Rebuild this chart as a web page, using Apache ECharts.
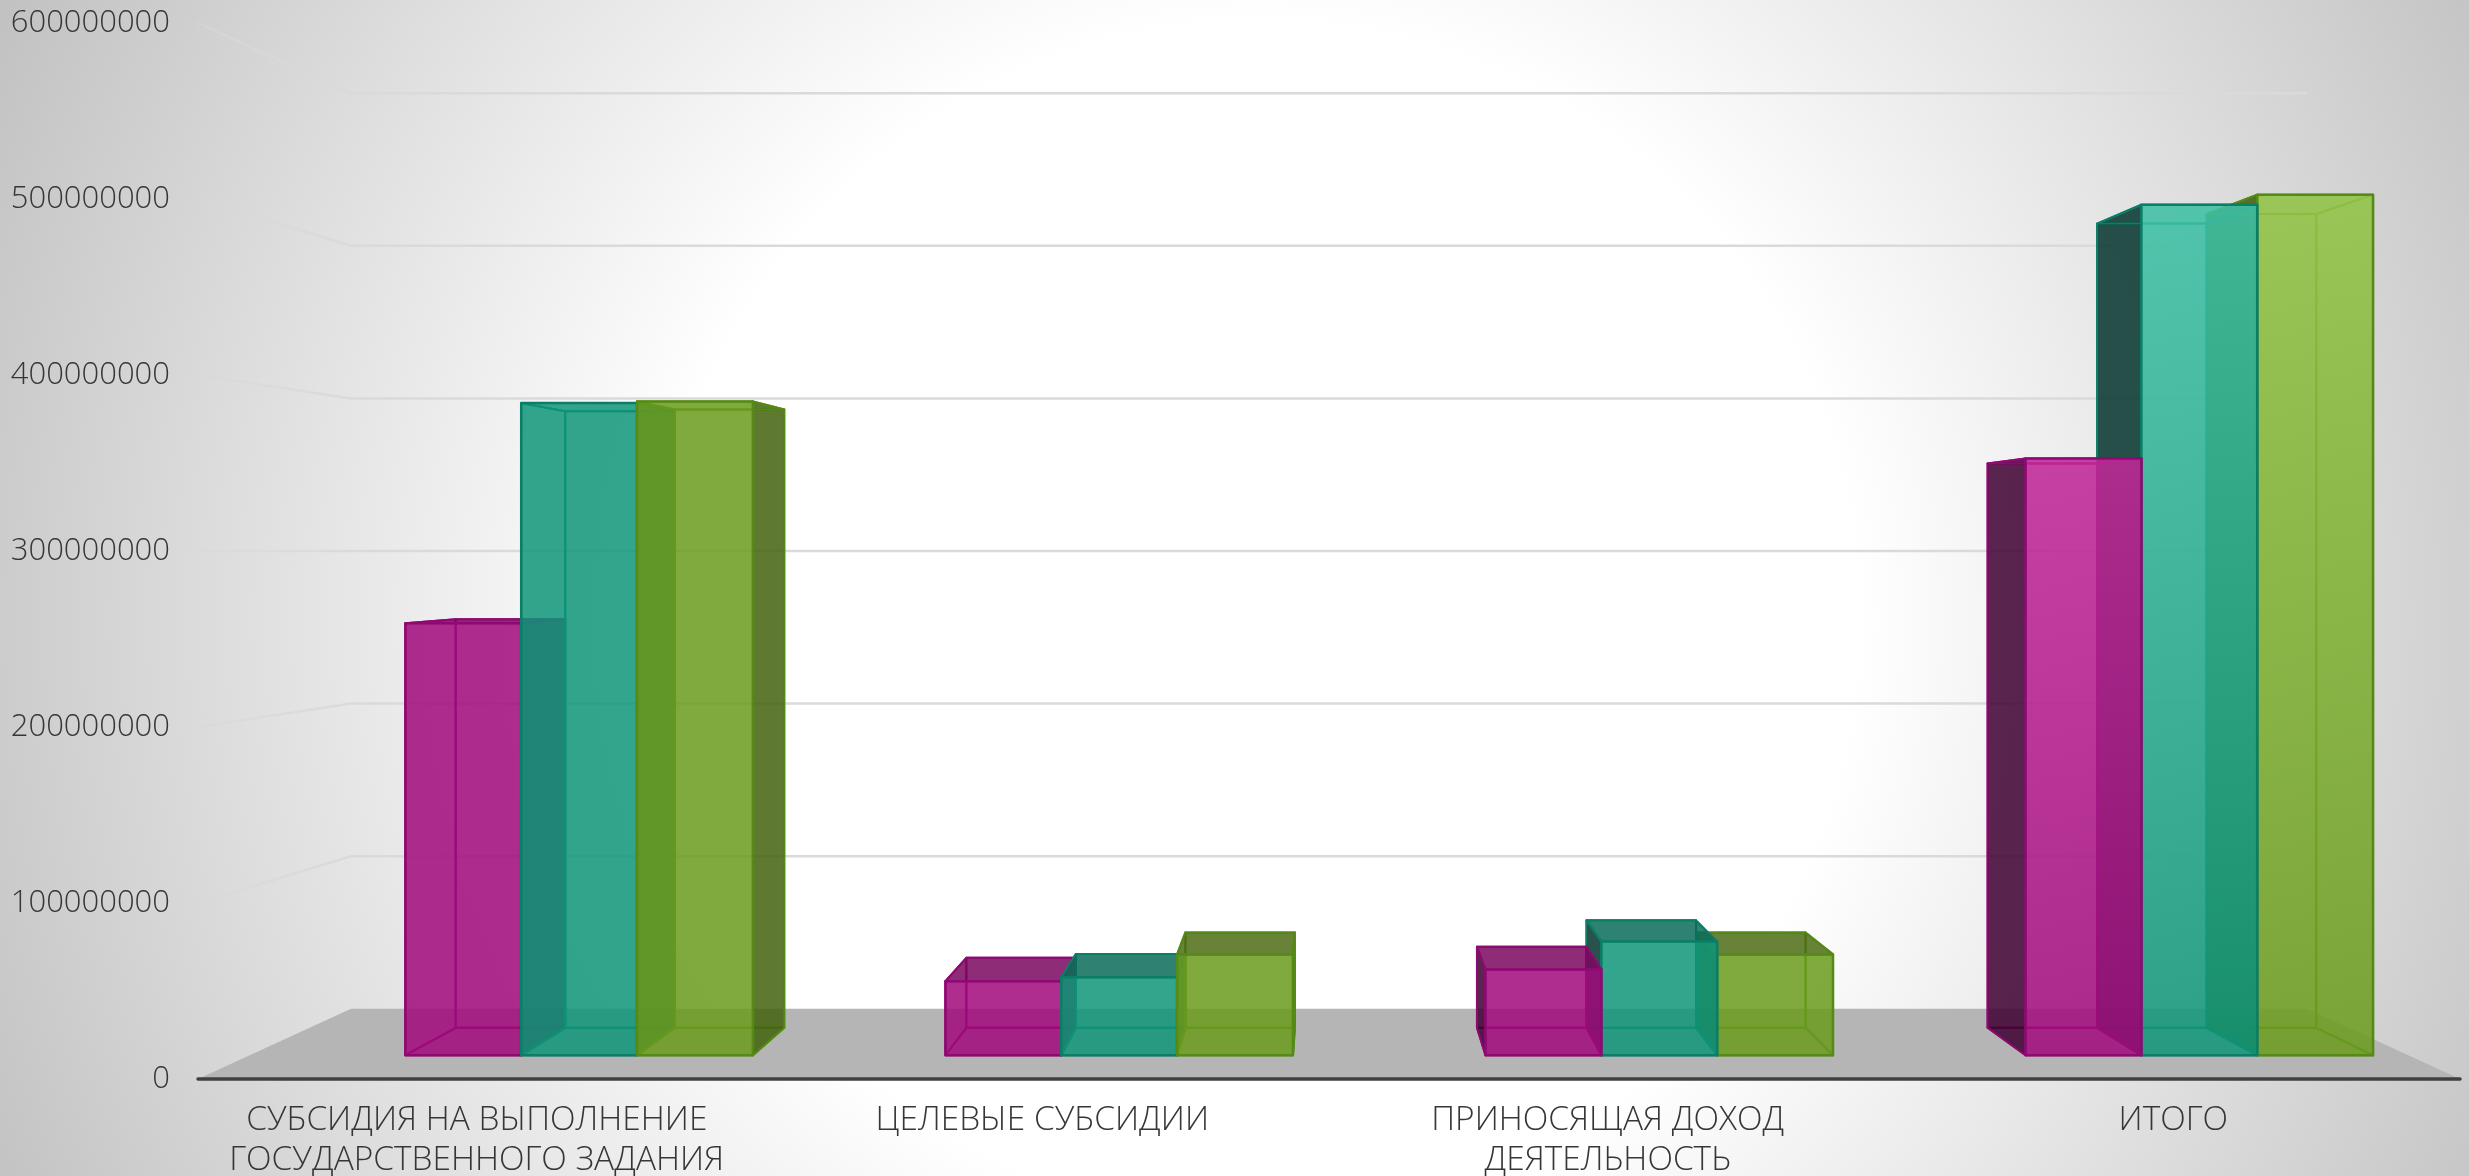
<!DOCTYPE html>
<html><head><meta charset="utf-8">
<style>html,body{margin:0;padding:0;background:#fff}#c{width:2469px;height:1176px}</style>
<script src="https://cdn.jsdelivr.net/npm/echarts@6/dist/echarts.min.js"></script>
</head><body><div id="c"></div>
<script>
const categories = ['СУБСИДИЯ НА ВЫПОЛНЕНИЕ\nГОСУДАРСТВЕННОГО ЗАДАНИЯ','ЦЕЛЕВЫЕ СУБСИДИИ','ПРИНОСЯЩАЯ ДОХОД\nДЕЯТЕЛЬНОСТЬ','ИТОГО'];
const yTicks = [100000000,200000000,300000000,400000000,500000000,600000000];
const series1Values = [257000000,44000000,51000000,355000000];
const series2Values = [388000000,46400000,67600000,506000000];
const series3Values = [389000000,60000000,60000000,512000000];

const FONT = '"Open Sans", "Noto Sans", sans-serif';
const TEXT = '#363636';
const S_FRONT = 0.955, S_BACK = 0.903, S_WALL_Y = 0.867, S_WALL_X = 0.8647;
const BAND_SHIFT = 0.1115, BAR_RATIO = 0.2145;
const palette = [
  {front:'rgba(160,8,123,0.85)', lit:'rgba(192,40,152,0.88)', side:'rgba(61,0,49,0.85)', sideR:'rgba(110,5,85,0.85)', top:'rgba(122,7,96,0.85)', edge:'#8e0a72'},
  {front:'rgba(14,149,120,0.85)', lit:'rgba(62,192,165,0.88)', side:'rgba(3,52,45,0.85)', sideR:'rgba(10,100,85,0.85)', top:'rgba(9,108,89,0.85)', edge:'#0c7d66'},
  {front:'rgba(106,155,28,0.85)', lit:'rgba(146,196,72,0.9)', side:'rgba(60,92,10,0.85)', sideR:'rgba(66,99,12,0.85)', top:'rgba(77,108,20,0.85)', edge:'#558a16'}
];

function project(p, vp, s){ return [vp[0]+(p[0]-vp[0])*s, vp[1]+(p[1]-vp[1])*s]; }
function wall(p, vp){ return [vp[0]+(p[0]-vp[0])*S_WALL_X, vp[1]+(p[1]-vp[1])*S_WALL_Y]; }
function vanish(params, api){
  const cs = params.coordSys;
  return [cs.x+cs.width/2, api.coord([0,300000000])[1]];
}

function renderFloor(params, api){
  const cs = params.coordSys, vp = vanish(params, api);
  const y0 = api.coord([0,0])[1];
  const fl=[cs.x,y0], fr=[cs.x+cs.width,y0];
  return {type:'polygon', silent:true, z2:1,
    shape:{points:[fl,fr,wall(fr,vp),wall(fl,vp)]},
    style:{fill:'#b5b5b5', stroke:'none'}};
}

function renderGrid(params, api){
  const cs = params.coordSys, vp = vanish(params, api);
  const y = api.coord([0,api.value(1)])[1];
  const l=[cs.x,y], r=[cs.x+cs.width,y];
  const bl=wall(l,vp), br=wall(r,vp);
  return {type:'group', children:[
    {type:'line', silent:true, z2:2, shape:{x1:bl[0],y1:bl[1],x2:br[0],y2:br[1]}, style:{stroke:'#dadada',lineWidth:2.5}},
    {type:'line', silent:true, z2:2, shape:{x1:l[0],y1:l[1],x2:bl[0],y2:bl[1]},
      style:{lineWidth:2.5, stroke:{type:'linear',x:l[0],y:0,x2:bl[0],y2:0,global:true,
        colorStops:[{offset:0,color:'rgba(216,216,216,0.45)'},{offset:1,color:'rgba(218,218,218,1)'}]}}}
  ]};
}

function renderBar(sIdx){
  return function(params, api){
    const vp = vanish(params, api);
    const cat = api.value(0), band = api.size([1,0])[0];
    const topPt = api.coord([cat, api.value(1)]), basePt = api.coord([cat,0]);
    const barW = band*BAR_RATIO;
    const x0 = topPt[0]+band*BAND_SHIFT-1.5*barW+sIdx*barW, x1 = x0+barW;
    const yT = topPt[1], yB = basePt[1];
    const f = {lt:project([x0,yT],vp,S_FRONT), rt:project([x1,yT],vp,S_FRONT), lb:project([x0,yB],vp,S_FRONT), rb:project([x1,yB],vp,S_FRONT)};
    const b = {lt:project([x0,yT],vp,S_BACK), rt:project([x1,yT],vp,S_BACK), lb:project([x0,yB],vp,S_BACK), rb:project([x1,yB],vp,S_BACK)};
    const c = palette[sIdx];
    const rightOfVp = (x0+x1)/2 > vp[0];
    const base = (rightOfVp ? 2-sIdx : sIdx)*10 + 10;
    const leftVis = b.lt[0] < f.lt[0], rightVis = b.rt[0] > f.rt[0], topVis = b.lt[1] < f.lt[1];
    const edge = (o,pts,fill,lw)=>({type:'polygon',silent:true,z2:base+o,shape:{points:pts},style:{fill:fill||'none',stroke:c.edge,lineWidth:lw||2,lineJoin:'round'}});
    const frontFill = cat===3
      ? {type:'linear',x:0,y:0,x2:0,y2:1,colorStops:[{offset:0,color:c.lit},{offset:1,color:c.front}]}
      : c.front;
    return {type:'group',children:[
      edge(0,[b.lt,b.rt,b.rb,b.lb],null,2),
      edge(1,[b.lb,b.rb,f.rb,f.lb],null,2),
      edge(2,[b.lt,f.lt,f.lb,b.lb],leftVis?c.side:null,2),
      edge(3,[f.rt,b.rt,b.rb,f.rb],rightVis?c.sideR:null,2),
      edge(4,[b.lt,b.rt,f.rt,f.lt],topVis?c.top:null,2),
      edge(5,[f.lt,f.rt,f.rb,f.lb],frontFill,2.5)
    ]};
  };
}

function barSeries(name, values, sIdx){
  return {type:'custom', name, clip:false, renderItem:renderBar(sIdx), z:3,
    encode:{x:0,y:1}, data:values.map((v,i)=>[i,v])};
}

const chart = echarts.init(document.getElementById('c'), null, {renderer:'canvas', width:2469, height:1176});
chart.setOption({
  animation:false,
  backgroundColor:{type:'radial',x:1260,y:620,r:1420,global:true,colorStops:[
    {offset:0,color:'#ffffff'},{offset:0.42,color:'#ffffff'},{offset:1,color:'#c0c0c0'}]},
  grid:{left:198,right:9,top:23,bottom:97,containLabel:false,outerBoundsMode:'none'},
  xAxis:{type:'category',data:categories,boundaryGap:true,z:4,
    axisTick:{show:false},
    axisLine:{show:true,lineStyle:{color:'#404040',width:3.5}},
    axisLabel:{interval:0,color:TEXT,fontFamily:FONT,fontWeight:300,fontSize:33.4,lineHeight:40,margin:21.5,padding:[0,8,0,0]}},
  yAxis:{type:'value',min:0,max:600000000,interval:100000000,
    axisLine:{show:false},axisTick:{show:false},splitLine:{show:false},
    axisLabel:{color:TEXT,fontFamily:FONT,fontWeight:300,fontSize:31,margin:28,padding:[5,0,0,0],formatter:v=>String(v)}},
  series:[
    {type:'custom',name:'floor',clip:false,renderItem:renderFloor,z:1,encode:{x:0,y:1},data:[[0,0]]},
    {type:'custom',name:'gridlines',clip:false,renderItem:renderGrid,z:2,encode:{x:0,y:1},data:yTicks.map(t=>[0,t])},
    barSeries('Ряд 1',series1Values,0),
    barSeries('Ряд 2',series2Values,1),
    barSeries('Ряд 3',series3Values,2)
  ]
});
</script></body></html>
